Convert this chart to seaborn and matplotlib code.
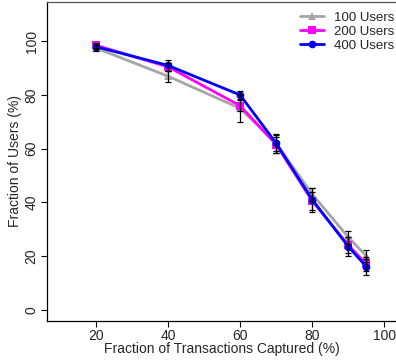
import numpy as np
import pandas as pd
import matplotlib
matplotlib.use("Agg")
import matplotlib.pyplot as plt
import seaborn as sns
from matplotlib.lines import Line2D

# ---- data ----
x_vals = [20, 40, 60, 70, 80, 90, 95]
series_names = ["100 Users", "200 Users", "400 Users"]
users100 = [97.5, 87.0, 75.0, 62.0, 43.0, 27.0, 20.0]
users100_err = [1.0, 2.0, 5.0, 3.0, 2.5, 2.5, 2.3]
users200 = [98.5, 90.5, 76.0, 61.5, 40.5, 24.0, 17.0]
users200_err = [1.0, 1.5, 2.0, 3.0, 3.5, 3.0, 2.5]
users400 = [98.0, 91.0, 80.0, 62.0, 41.0, 23.5, 16.0]
users400_err = [1.0, 2.0, 1.5, 3.5, 4.5, 3.5, 3.0]
x_ticks = [20, 40, 60, 80, 100]
y_ticks = [0, 20, 40, 60, 80, 100]
x_label = "Fraction of Transactions Captured (%)"
y_label = "Fraction of Users (%)"

colors = {"100 Users": "#a6a6a6", "200 Users": "#ff00ff", "400 Users": "#0000ff"}
markers = {"100 Users": "^", "200 Users": "s", "400 Users": "o"}

df = pd.DataFrame({
    "x": x_vals * 3,
    "y": users100 + users200 + users400,
    "err": users100_err + users200_err + users400_err,
    "series": sum([[n] * len(x_vals) for n in series_names], []),
})

sns.set_style("white")
plt.rcParams["font.family"] = ["Liberation Sans", "DejaVu Sans"]

fig = plt.figure(figsize=(3.96, 3.64), dpi=100)
ax = fig.add_axes([47 / 396, 43 / 364, (396 - 47) / 396, 319.5 / 364])

sns.lineplot(data=df, x="x", y="y", hue="series", style="series",
             palette=colors, markers=markers, dashes=False, errorbar=None,
             linewidth=2.0, markersize=5.5, markeredgewidth=0, ax=ax, legend=False)

for name in series_names:
    sub = df[df.series == name]
    ax.errorbar(sub["x"], sub["y"], yerr=sub["err"], fmt="none",
                ecolor="black", elinewidth=0.9, capsize=2.5, capthick=0.9, zorder=5)

ax.set_xlim(6.5, 103.2)
ax.set_ylim(-4.2, 114.8)
ax.set_xticks(x_ticks)
ax.set_yticks(y_ticks)
ax.set_xticklabels([str(t) for t in x_ticks], fontsize=10)
ax.set_yticklabels([str(t) for t in y_ticks], fontsize=10, rotation=90, va="center")
ax.tick_params(axis="both", direction="out", length=4, width=0.8, color="black",
               bottom=True, left=True, pad=2)
ax.set_xlabel(x_label, fontsize=10, labelpad=-1)
ax.set_ylabel(y_label, fontsize=10, labelpad=2)

for s in ["left", "bottom", "top"]:
    ax.spines[s].set_color("black")
    ax.spines[s].set_linewidth(0.9)
ax.spines["top"].set_color("#555555")
ax.spines["right"].set_visible(False)

handles = [Line2D([0], [0], color=colors[n], marker=markers[n], lw=2.0,
                  markersize=5.5, markeredgewidth=0) for n in series_names]
ax.legend(handles, series_names, loc="upper right", frameon=False, fontsize=9.5,
          handlelength=1.8, handletextpad=0.8, labelspacing=0.15,
          bbox_to_anchor=(1.015, 0.99), borderaxespad=0.1)

fig.savefig("out.png", dpi=100)
